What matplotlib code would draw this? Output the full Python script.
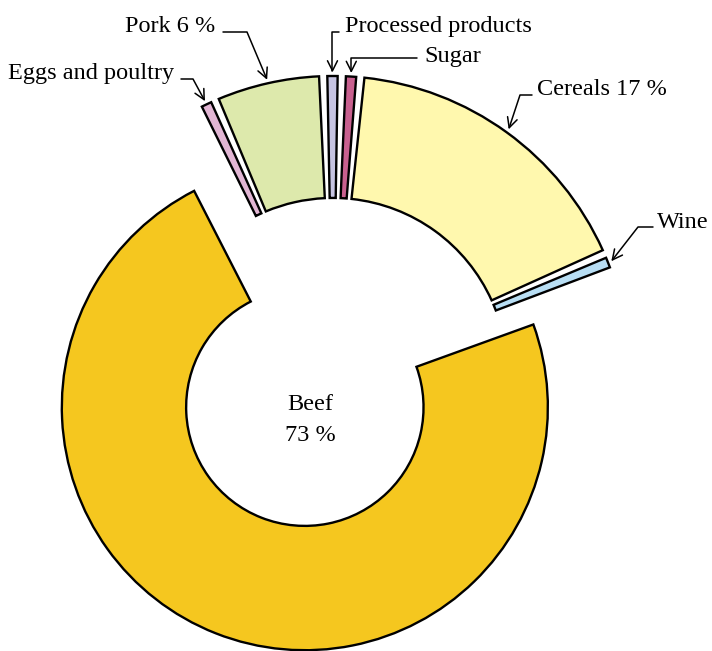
import math
import matplotlib.pyplot as plt

# shares of the total, clockwise from the top-left
foods = ["Eggs and poultry", "Pork", "Processed products", "Sugar", "Cereals", "Wine", "Beef"]
shares = [1, 6, 1, 1, 17, 1, 73]
colors = ["#e2b6d4", "#dde9ac", "#c6c4e2", "#c8608f", "#fff8ae", "#b8def4", "#f5c71f"]
label_text = ["Eggs and poultry", "Pork 6 %", "Processed products", "Sugar", "Cereals 17 %", "Wine"]

plt.rcParams['font.family'] = ['Liberation Serif', 'DejaVu Serif']

W, H = 712, 651
CX, CY, R = 333, 372, 296


def px(x, y):
    # picture pixels -> data units of the pie
    return ((x - CX) / R, (CY - y) / R)


fig = plt.figure(figsize=(W / 100, H / 100), dpi=100)
ax = fig.add_axes([0, 0, 1, 1])

edge = dict(edgecolor="black", linewidth=1.7)
start = 117.1

# outer ring for the small items
ring, _ = ax.pie(shares, colors=colors, startangle=start, counterclock=False,
                 radius=1.0, wedgeprops=dict(width=0.412, **edge))
# beef, drawn smaller and pushed out (plus a small nudge to the left)
explode = [0] * (len(shares) - 1) + [0.145]
beef, _ = ax.pie(shares, colors=colors, startangle=start, counterclock=False,
                 radius=0.821, explode=explode, center=(-0.042, 0.016),
                 wedgeprops=dict(width=0.42, **edge))

ring[-1].set_visible(False)
for w in beef[:-1]:
    w.set_visible(False)

trim = 0.8
for w in ring[:-1]:
    w.set_theta1(w.theta1 + trim)
    w.set_theta2(w.theta2 - trim)

# label placement: text anchor, alignment, line y, line start x, corner x (None = vertical drop)
label_pos = [
    ((174, 79), "right", 79, 181, 193),
    ((215, 32), "right", 32, 223, 247),
    ((345, 32), "left", 32, 339, None),
    ((424, 62), "left", 58, 417, None),
    ((537, 95), "left", 95, 532, 520),
    ((657, 228), "left", 227, 653, 638),
]

for w, txt, (anchor, ha, ly, sx, cx) in zip(ring[:-1], label_text, label_pos):
    tm = math.radians((w.theta1 + w.theta2) / 2)
    tx = w.center[0] + 1.012 * math.cos(tm)
    ty = w.center[1] + 1.012 * math.sin(tm)
    ax.text(*px(*anchor), txt, ha=ha, va="baseline", fontsize=17.5)
    start_pt = px(sx, ly)
    if cx is None:
        angB = 90
    else:
        cpt = px(cx, ly)
        angB = math.degrees(math.atan2(cpt[1] - ty, cpt[0] - tx))
    ax.annotate("", xy=(tx, ty), xytext=start_pt,
                arrowprops=dict(arrowstyle="->", mutation_scale=18, lw=1.1, color="black",
                                shrinkA=0, shrinkB=0,
                                connectionstyle=f"angle,angleA=0,angleB={angB:.2f},rad=0"))

bx = px(310, 0)[0]
ax.text(bx, px(0, 410)[1], "Beef", ha="center", va="baseline", fontsize=17.5)
ax.text(bx, px(0, 441)[1], "73 %", ha="center", va="baseline", fontsize=17.5)

ax.set_xlim(-CX / R, (W - CX) / R)
ax.set_ylim(-(H - CY) / R, CY / R)
ax.set_aspect("equal")
ax.axis("off")

fig.savefig("out.png", dpi=100)
